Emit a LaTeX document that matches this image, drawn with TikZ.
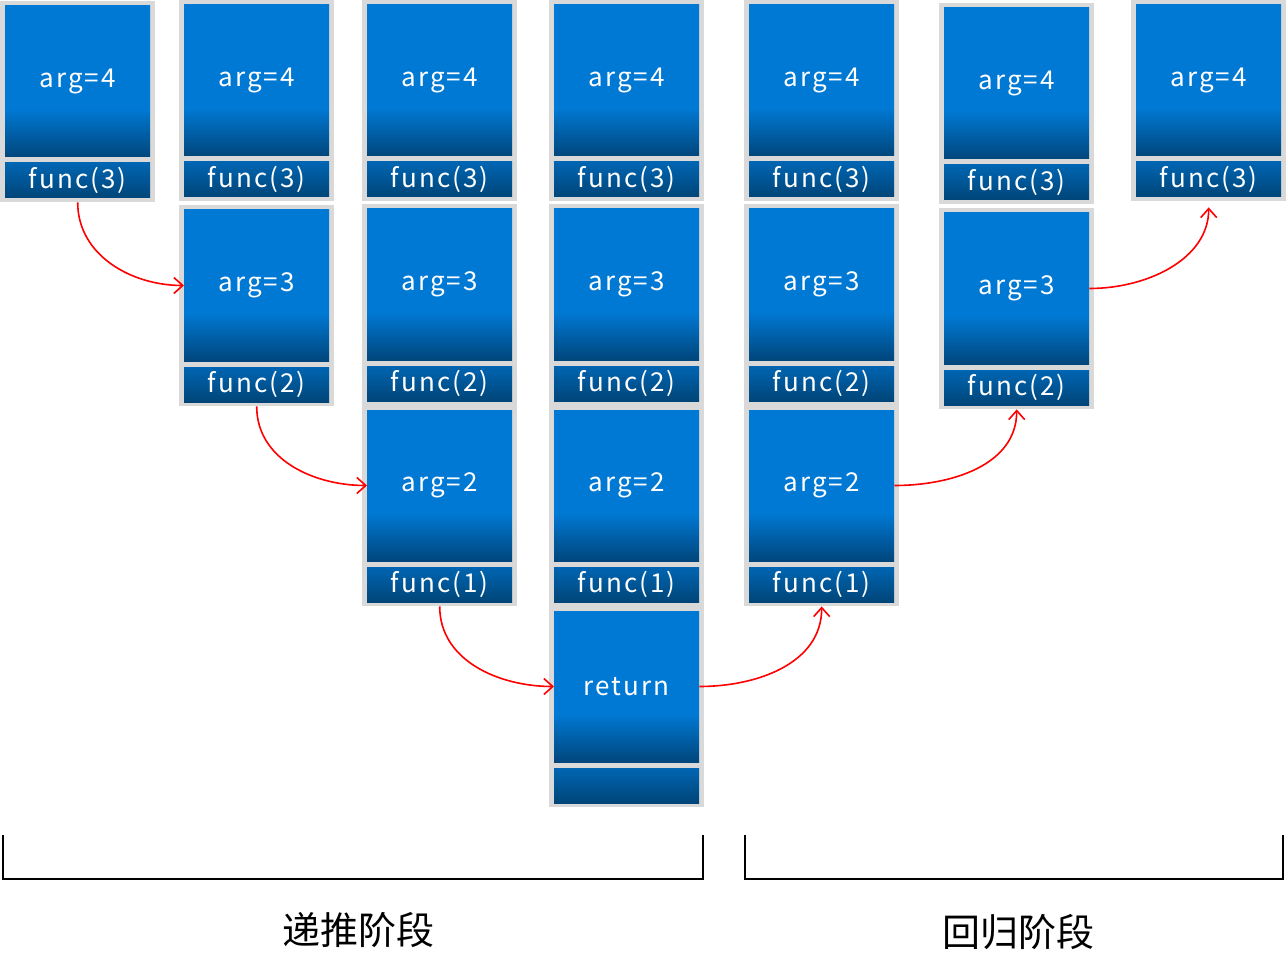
\documentclass[tikz,border=0pt]{standalone}
\usepackage{fontspec}
\setmainfont{Noto Sans CJK SC}
\newfontfamily\boxfont[LetterSpace=8]{Noto Sans CJK SC}
\usetikzlibrary{arrows.meta,calc}
\definecolor{framegray}{RGB}{217,217,217}
\definecolor{argblue}{RGB}{0,121,212}
\definecolor{argdark}{RGB}{0,70,124}
\definecolor{barblue}{RGB}{0,101,178}
\definecolor{bardark}{RGB}{0,69,120}
% flat on top, darker towards the bottom
\pgfdeclareverticalshading{argshade}{100bp}{color(0bp)=(argdark); color(25bp)=(argdark);
  color(41bp)=(argblue); color(100bp)=(argblue)}

\tikzset{
  framebox/.style={fill=framegray, minimum width=155pt, minimum height=201pt, inner sep=0pt},
  argbox/.style={shading=argshade, minimum width=145pt, minimum height=151pt, inner sep=0pt,
    text=white, font=\boxfont\fontsize{26}{28}\selectfont},
  barbox/.style={top color=barblue, bottom color=bardark, minimum width=145pt, minimum height=35pt,
    inner sep=0pt, text=white, font=\boxfont\fontsize{26}{28}\selectfont},
  callarrow/.style={red, line width=1.6pt, -{Straight Barb[length=9pt,width=16pt]}},
  bracket/.style={black, line width=1.5pt},
  phase/.style={font=\fontsize{38}{40}\selectfont}
}

% one stack frame: name, left x, top y, upper text, lower text
\newcommand{\callframe}[5]{%
  \node[framebox, anchor=north west] (#1) at (#2,-#3) {};
  \node[argbox] (#1a) at ($(#1.north)+(0,-80.5)$) {#4};
  \node[barbox] (#1b) at ($(#1.north)+(0,-179.5)$) {#5};
}

\begin{document}
\begin{tikzpicture}[x=1pt,y=1pt]
    \useasboundingbox (0,0) rectangle (1287,-965);

    % column 1
    \callframe{c1r1}{0}{1}{arg=4}{func(3)}
    % column 2
    \callframe{c2r1}{179}{0}{arg=4}{func(3)}
    \callframe{c2r2}{179}{205}{arg=3}{func(2)}
    % column 3
    \callframe{c3r1}{362}{0}{arg=4}{func(3)}
    \callframe{c3r2}{362}{204}{arg=3}{func(2)}
    \callframe{c3r3}{362}{405}{arg=2}{func(1)}
    % column 4
    \callframe{c4r1}{549}{0}{arg=4}{func(3)}
    \callframe{c4r2}{549}{204}{arg=3}{func(2)}
    \callframe{c4r3}{549}{405}{arg=2}{func(1)}
    \callframe{c4r4}{549}{606}{return}{}
    % column 5
    \callframe{c5r1}{744}{0}{arg=4}{func(3)}
    \callframe{c5r2}{744}{204}{arg=3}{func(2)}
    \callframe{c5r3}{744}{405}{arg=2}{func(1)}
    % column 6
    \callframe{c6r1}{939}{3}{arg=4}{func(3)}
    \callframe{c6r2}{939}{208}{arg=3}{func(2)}
    % column 7
    \callframe{c7r1}{1131}{0}{arg=4}{func(3)}

    % calls going down
    \draw[callarrow] (c1r1.south) to[out=-90,in=180] (c2r2a.west);
    \draw[callarrow] (c2r2.south) to[out=-90,in=180] (c3r3a.west);
    \draw[callarrow] (c3r3.south) to[out=-90,in=180] (c4r4a.west);
    % returns going up
    \draw[callarrow] (c4r4a.east) to[out=0,in=-90] (c5r3.south);
    \draw[callarrow] (c5r3a.east) to[out=0,in=-90] (c6r2.south);
    \draw[callarrow, shorten >=6pt] (c6r2a.east) to[out=0,in=-90] (c7r1.south);

    % phases
    \draw[bracket] (3,-835) |- (703,-879) -- (703,-835);
    \draw[bracket] (745,-835) |- (1283,-879) -- (1283,-835);
    \node[phase] (push) at (358,-930) {递推阶段};
    \node[phase] (pop) at (1018,-932) {回归阶段};
\end{tikzpicture}
\end{document}
